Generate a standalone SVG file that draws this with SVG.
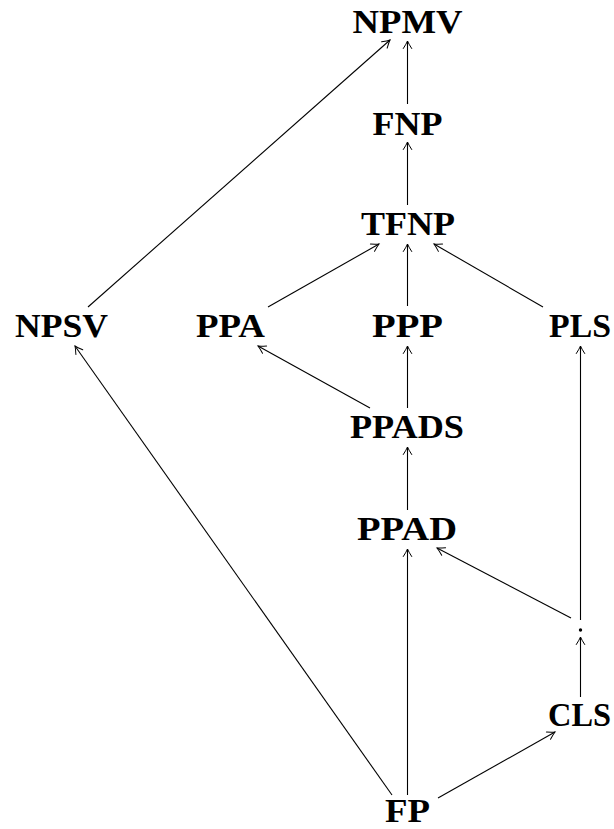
<svg xmlns="http://www.w3.org/2000/svg" width="614" height="829" viewBox="0 0 614 829">
<defs>
<marker id="ah" markerWidth="12" markerHeight="12" viewBox="-8 -6 10 12" refX="0" refY="0" orient="auto" markerUnits="userSpaceOnUse">
<path d="M-7.5,-4.2 Q-2.5,-1 0,0 Q-2.5,1 -7.5,4.2" fill="none" stroke="#000" stroke-width="1" stroke-linecap="round"/>
</marker>
</defs>
<style>
.lbl{font-family:"Liberation Serif","Times New Roman",serif;font-weight:bold;font-size:33px;fill:#000;text-anchor:middle}
.e{stroke:#000;stroke-width:1.1;fill:none;marker-end:url(#ah)}
</style>
<rect width="614" height="829" fill="#fff"/>
<g id="connectors">
<line class="e" x1="88" y1="307" x2="390" y2="40"/>
<line class="e" x1="407.5" y1="104" x2="407.5" y2="41"/>
<line class="e" x1="407.5" y1="205" x2="407.5" y2="142"/>
<line class="e" x1="268" y1="307" x2="379" y2="244"/>
<line class="e" x1="407.5" y1="306" x2="407.5" y2="244"/>
<line class="e" x1="543" y1="307" x2="434" y2="244"/>
<line class="e" x1="370" y1="408" x2="258" y2="346"/>
<line class="e" x1="407.5" y1="408" x2="407.5" y2="346"/>
<line class="e" x1="407.5" y1="510" x2="407.5" y2="447"/>
<line class="e" x1="407.5" y1="795" x2="407.5" y2="549"/>
<line class="e" x1="392" y1="795" x2="75" y2="346"/>
<line class="e" x1="438" y1="798" x2="555" y2="732"/>
<line class="e" x1="580.5" y1="697" x2="580.5" y2="637"/>
<line class="e" x1="571" y1="618" x2="437" y2="548"/>
<line class="e" x1="580.5" y1="620" x2="580.5" y2="346"/>
</g>
<g id="NPMV"><text class="lbl" x="407.5" y="33" textLength="110" lengthAdjust="spacingAndGlyphs">NPMV</text></g>
<g id="FNP"><text class="lbl" x="407.5" y="135" textLength="70" lengthAdjust="spacingAndGlyphs">FNP</text></g>
<g id="TFNP"><text class="lbl" x="408" y="235" textLength="94" lengthAdjust="spacingAndGlyphs">TFNP</text></g>
<g id="NPSV"><text class="lbl" x="61.5" y="337" textLength="93" lengthAdjust="spacingAndGlyphs">NPSV</text></g>
<g id="PPA"><text class="lbl" x="230.5" y="337" textLength="69" lengthAdjust="spacingAndGlyphs">PPA</text></g>
<g id="PPP"><text class="lbl" x="407.5" y="337" textLength="71" lengthAdjust="spacingAndGlyphs">PPP</text></g>
<g id="PLS"><text class="lbl" x="580" y="337" textLength="62" lengthAdjust="spacingAndGlyphs">PLS</text></g>
<g id="PPADS"><text class="lbl" x="407" y="438" textLength="114" lengthAdjust="spacingAndGlyphs">PPADS</text></g>
<g id="PPAD"><text class="lbl" x="407" y="540" textLength="100" lengthAdjust="spacingAndGlyphs">PPAD</text></g>
<g id="dot"><circle cx="580.5" cy="630" r="1.7" fill="#000"/></g>
<g id="CLS"><text class="lbl" x="579.5" y="726" textLength="63" lengthAdjust="spacingAndGlyphs">CLS</text></g>
<g id="FP"><text class="lbl" x="407.5" y="822" textLength="45" lengthAdjust="spacingAndGlyphs">FP</text></g>
</svg>
